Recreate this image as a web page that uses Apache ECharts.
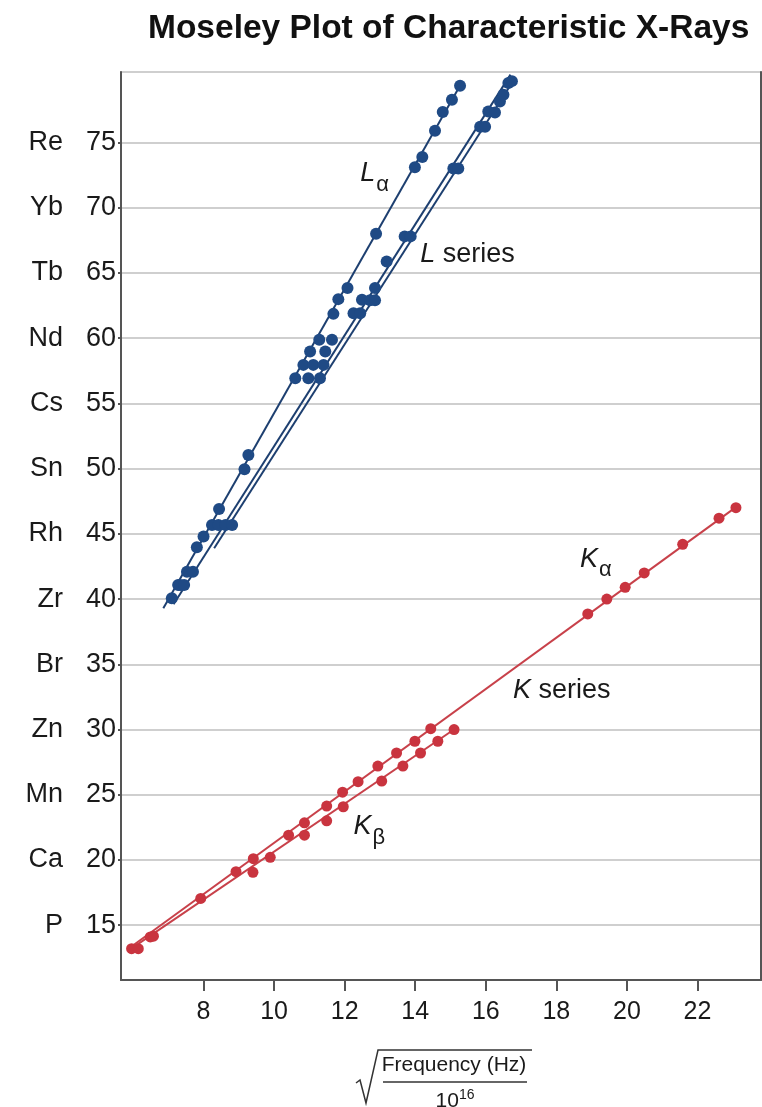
<!DOCTYPE html>
<html>
<head>
<meta charset="utf-8">
<script src="https://cdn.jsdelivr.net/npm/echarts@6/dist/echarts.min.js"></script>
<style>
  html, body { margin: 0; padding: 0; background: #fff; }
  #chart { width: 762px; height: 1107px; }
</style>
</head>
<body>
<div id="chart"></div>
<script>
// K series points (sqrt(f / 1e16), Z)
const kAlphaX = [5.96, 6.49, 7.92, 8.92, 9.41, 10.41, 10.86, 11.49, 11.94, 12.38, 12.94, 13.47, 13.99, 14.44, 18.89, 19.43, 19.95, 20.49, 21.58, 22.61, 23.09];
const kAlphaZ = [13.2, 14.1, 17.05, 19.1, 20.1, 21.9, 22.85, 24.13, 25.2, 26.0, 27.2, 28.2, 29.1, 30.06, 38.86, 40.0, 40.9, 42.0, 44.2, 46.2, 47.0];
const kBetaX = [6.15, 6.58, 9.40, 9.89, 10.86, 11.49, 11.96, 13.05, 13.65, 14.15, 14.64, 15.10];
const kBetaZ = [13.2, 14.16, 19.05, 20.2, 21.9, 23.0, 24.08, 26.05, 27.2, 28.2, 29.1, 30.0];

// L series points
const lAlphaX = [7.10, 7.34, 7.53, 7.81, 8.00, 8.24, 8.44, 9.16, 9.27, 10.60, 10.83, 11.02, 11.28, 11.68, 11.82, 12.08, 12.89, 13.99, 14.20, 14.56, 14.78, 15.04, 15.27];
const lAlphaZ = [40.06, 41.08, 42.1, 43.97, 44.8, 45.68, 46.9, 49.95, 51.05, 56.93, 57.95, 58.97, 59.87, 61.86, 62.99, 63.84, 68.0, 73.1, 73.88, 75.9, 77.33, 78.27, 79.35];
const lOtherX = [7.28, 7.45, 7.70, 8.42, 8.62, 8.81, 10.97, 11.30, 11.11, 11.40, 11.45, 11.64, 12.25, 12.44, 12.49, 12.72, 12.86, 12.86, 13.19, 13.70, 13.87, 15.08, 15.22, 15.84, 15.98, 16.07, 16.26, 16.40, 16.50, 16.64, 16.74];
const lOtherZ = [41.08, 41.08, 42.1, 45.68, 45.68, 45.68, 56.93, 56.93, 57.95, 57.95, 58.97, 59.87, 61.9, 61.9, 62.94, 62.9, 62.9, 63.84, 65.87, 67.8, 67.8, 73.0, 73.0, 76.2, 76.2, 77.38, 77.3, 78.14, 78.66, 79.55, 79.7];

// fitted lines, end points
const lineLAlphaX = [6.86, 15.32], lineLAlphaZ = [39.3, 79.6];
const lineL1X = [7.15, 16.70], lineL1Z = [39.6, 80.2];
const lineL2X = [8.30, 16.82], lineL2Z = [43.9, 79.9];
const lineKAlphaX = [5.87, 23.12], lineKAlphaZ = [13.2, 47.1];
const lineKBetaX = [5.95, 15.15], lineKBetaZ = [13.2, 30.1];

// axis ticks
const xTicks = [8, 10, 12, 14, 16, 18, 20, 22];
const yTicks = [15, 20, 25, 30, 35, 40, 45, 50, 55, 60, 65, 70, 75];
const yElements = ['P', 'Ca', 'Mn', 'Zn', 'Br', 'Zr', 'Rh', 'Sn', 'Cs', 'Nd', 'Tb', 'Yb', 'Re'];

// annotations
const noteX = [12.44, 14.14, 18.67, 16.77, 12.25];
const noteZ = [72.6, 66.4, 43.07, 33.0, 22.55];
const noteText = ['{i|L}{s|α}', '{i|L}{n| series}', '{i|K}{s|α}', '{i|K}{n| series}', '{i|K}{s|β}'];

const BLUE = '#1f4a85';
const BLUE_LINE = '#1d3f70';
const RED = '#c9343f';
const RED_LINE = '#c8414a';
const INK = '#1a1a1a';
const FONT = 'Liberation Sans, Arial, sans-serif';

const pairs = (xs, ys) => xs.map((x, i) => [x, ys[i]]);

function fitLine(name, xs, ys, color) {
  return {
    type: 'line', name: name, data: pairs(xs, ys),
    showSymbol: false, silent: true, z: 2,
    lineStyle: { color: color, width: 2 }
  };
}

function points(name, xs, ys, color, size) {
  return {
    type: 'scatter', name: name, data: pairs(xs, ys),
    symbolSize: size, z: 3,
    itemStyle: { color: color, opacity: 1 }
  };
}

const chart = echarts.init(document.getElementById('chart'));
chart.setOption({
  animation: false,
  backgroundColor: '#fff',
  textStyle: { fontFamily: FONT },
  grid: { left: 121, right: 1, top: 72, bottom: 127, show: true, borderColor: '#cfcfcf', borderWidth: 2 },
  xAxis: {
    type: 'value', min: 5.66, max: 23.8,
    axisLine: { lineStyle: { color: '#555', width: 2 } },
    axisTick: { customValues: xTicks, length: 11, lineStyle: { color: '#555', width: 2 } },
    axisLabel: { customValues: xTicks, fontSize: 25, color: INK, margin: 20, fontFamily: FONT },
    splitLine: { show: false }
  },
  yAxis: [{
    type: 'value', min: 10.8, max: 80.4,
    axisLine: { show: true, lineStyle: { color: '#555', width: 2 } },
    axisTick: { show: true, customValues: yTicks, length: 3, lineStyle: { color: '#555', width: 2 } },
    axisLabel: {
      customValues: yTicks, fontSize: 27, color: INK, margin: 5, fontFamily: FONT,
      formatter: v => '{e|' + yElements[yTicks.indexOf(v)] + '}{v|' + v + '}',
      rich: {
        e: { fontSize: 27, color: INK, fontFamily: FONT, padding: [0, 23, 0, 0] },
        v: { fontSize: 27, color: INK, fontFamily: FONT }
      }
    },
    splitLine: { show: true, lineStyle: { color: '#cfcfcf', width: 2 } }
  }, {
    type: 'value', min: 10.8, max: 80.4, position: 'right',
    axisLine: { show: true, lineStyle: { color: '#555', width: 2 } },
    axisTick: { show: false }, axisLabel: { show: false }, splitLine: { show: false }
  }],
  title: {
    text: 'Moseley Plot of Characteristic X-Rays',
    left: 143, top: 7,
    textStyle: { fontSize: 33.5, fontWeight: 'bold', color: '#111', fontFamily: FONT }
  },
  graphic: [
    { type: 'polyline', shape: { points: [[356, 1083], [360, 1080], [366, 1103], [378, 1050], [532, 1050]] },
      style: { stroke: '#333', lineWidth: 1.5, fill: null } },
    { type: 'text', x: 454, y: 1065, style: { text: 'Frequency (Hz)', fontSize: 21, fill: INK, align: 'center', verticalAlign: 'middle', fontFamily: FONT } },
    { type: 'line', shape: { x1: 383, y1: 1082, x2: 527, y2: 1082 }, style: { stroke: '#333', lineWidth: 1.5 } },
    { type: 'text', x: 455, y: 1099, style: {
        text: '{b|10}{p|16}', align: 'center', verticalAlign: 'middle', fontFamily: FONT,
        rich: { b: { fontSize: 21, fill: INK, padding: [4, 0, 0, 0] }, p: { fontSize: 14, fill: INK, padding: [0, 0, 7, 0] } }
      } }
  ],
  series: [
    fitLine('L alpha fit', lineLAlphaX, lineLAlphaZ, BLUE_LINE),
    fitLine('L fit 1', lineL1X, lineL1Z, BLUE_LINE),
    fitLine('L fit 2', lineL2X, lineL2Z, BLUE_LINE),
    fitLine('K alpha fit', lineKAlphaX, lineKAlphaZ, RED_LINE),
    fitLine('K beta fit', lineKBetaX, lineKBetaZ, RED_LINE),
    points('L alpha', lAlphaX, lAlphaZ, BLUE, 12),
    points('L other', lOtherX, lOtherZ, BLUE, 12),
    points('K alpha', kAlphaX, kAlphaZ, RED, 11),
    points('K beta', kBetaX, kBetaZ, RED, 11),
    {
      type: 'scatter', name: 'notes', silent: true, symbolSize: 0, z: 4,
      itemStyle: { opacity: 1 },
      data: noteX.map((x, i) => ({ value: [x, noteZ[i]], text: noteText[i] })),
      label: {
        show: true, position: 'right', distance: 0, color: INK, opacity: 1,
        formatter: p => p.data.text,
        rich: {
          i: { fontSize: 27, fontStyle: 'italic', color: INK, fontFamily: FONT },
          n: { fontSize: 27, color: INK, fontFamily: FONT },
          s: { fontSize: 22, color: INK, fontFamily: FONT, padding: [22, 0, 0, 1] }
        }
      }
    }
  ]
});
</script>
</body>
</html>
